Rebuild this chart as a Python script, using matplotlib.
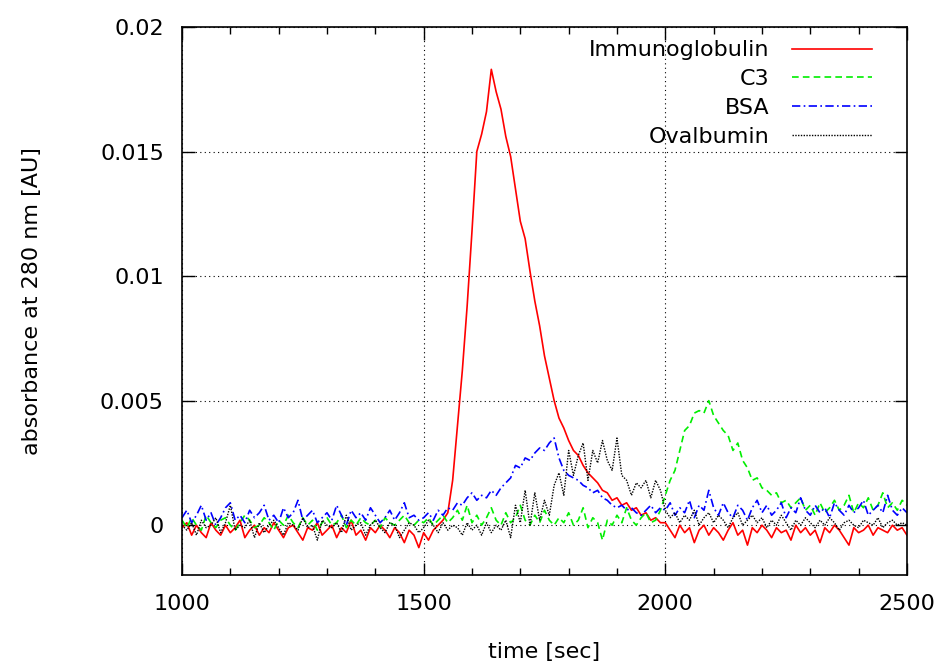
import numpy as np
import matplotlib.pyplot as plt
from matplotlib.ticker import MultipleLocator

# time axis [sec], one reading every 10 sec
time = np.arange(1000, 2501, 10)

# absorbance values in units of 1e-4 AU
immunoglobulin = [
    -1, 1, -4, 0, -3, -5, 1, -2, -4, 0,
    -3, -1, 2, -5, -2, 0, -4, -1, -3, 1,
    -2, -5, -1, 0, -3, -6, -1, -2, 1, -4,
    -2, 0, -5, -1, -3, 2, -4, -2, -6, -1,
    -3, 0, -2, -5, -1, -3, -7, -2, -4, -9,
    -3, -6, -2, 0, 2, 5, 18, 40, 62, 88,
    118, 150, 157, 166, 183, 174, 167, 156, 148, 135,
    122, 115, 102, 90, 80, 68, 59, 50, 43, 39,
    34, 30, 28, 24, 21, 19, 17, 14, 13, 10,
    11, 8, 9, 6, 7, 4, 5, 2, 3, 1,
    1, -2, -5, 0, -3, -1, -7, -2, 0, -4,
    -1, -3, -6, -2, 1, -4, -2, -8, -1, -3,
    0, -2, -5, -1, -3, -2, -6, 0, -3, -1,
    -4, -2, -7, -1, -3, 0, -2, -5, -8, -1,
    -3, -2, 0, -4, -1, -2, -3, 0, -2, -1, -4,
]
c3 = [
    2, -1, 3, 0, -2, 4, 1, -1, 2, 3,
    0, -2, 1, 4, 2, -1, 0, 3, 1, -2,
    2, 0, 4, 1, -1, 3, 0, 2, -2, 1,
    3, 0, 1, 4, -1, 2, 0, 3, 1, 0,
    2, -1, 3, 1, 0, 2, 4, 1, 0, 2,
    1, 3, 0, 2, 4, 1, 3, 6, 2, 8,
    1, 4, 0, 3, 7, 2, 0, 5, 1, 3,
    8, 2, 0, 4, 1, 6, 2, 0, 3, 1,
    5, 0, 2, 7, -1, 3, 1, -6, 2, 0,
    4, 1, 7, 2, 0, 3, 5, 1, 2, 6,
    12, 18, 22, 30, 38, 40, 45, 46, 45, 50,
    44, 41, 38, 36, 30, 33, 26, 23, 18, 19,
    15, 14, 12, 13, 9, 10, 7, 9, 11, 6,
    8, 4, 9, 5, 7, 10, 6, 8, 12, 5,
    9, 7, 11, 6, 8, 13, 7, 9, 6, 10, 8,
]
bsa = [
    3, 6, 1, 4, 8, 2, 5, 0, 3, 7,
    9, 2, 4, 1, 6, 3, 5, 8, 2, 4,
    1, 7, 3, 5, 10, 2, 4, 6, 1, 3,
    5, 2, 8, 4, 0, 6, 3, 5, 2, 7,
    4, 1, 3, 6, 2, 5, 9, 3, 4, 2,
    3, 5, 2, 6, 4, 7, 6, 9, 8, 11,
    13, 10, 12, 11, 14, 12, 15, 17, 19, 24,
    23, 27, 26, 29, 31, 30, 33, 35, 27, 22,
    20, 19, 18, 16, 15, 13, 14, 11, 10, 8,
    7, 8, 6, 7, 5, 4, 6, 8, 5, 7,
    6, 9, 4, 7, 5, 10, 3, 8, 6, 14,
    7, 4, 9, 5, 3, 8, 6, 2, 7, 10,
    5, 8, 4, 6, 9, 3, 7, 5, 11, 6,
    4, 8, 5, 7, 3, 9, 6, 4, 8, 5,
    7, 10, 4, 6, 8, 5, 12, 6, 4, 7, 5,
]
ovalbumin = [
    0, -2, 1, -4, 2, -1, 0, 3, -3, 1,
    8, -2, 0, -1, 2, -5, 1, -3, 0, 2,
    -1, -4, 1, 0, -2, 3, -1, 0, -6, 2,
    0, -1, 1, -3, 4, -2, 0, 1, -4, 0,
    2, -1, -3, 1, 0, -5, -2, 1, 0, -3,
    -1, 2, 0, -3, 1, -2, 0, -1, -4, 1,
    -2, 0, -4, 1, -3, 0, -2, 2, -5, 8,
    1, 14, 0, 13, 2, 10, 4, 16, 21, 12,
    30, 20, 28, 33, 18, 30, 25, 34, 26, 22,
    35, 20, 18, 12, 17, 15, 18, 11, 18, 14,
    6, 3, 5, 1, 4, 2, 6, 0, 3, 5,
    1, 4, 2, -1, 3, 5, 0, 2, 4, 1,
    3, -1, 2, 0, 4, 1, -2, 2, 0, 3,
    1, -1, 2, 0, 3, 1, -2, 1, 2, 0,
    -1, 2, 1, 0, 3, -1, 1, 2, 0, 1, 0,
]

plt.rcParams['font.family'] = ['DejaVu Sans']

fig = plt.figure(figsize=(9.42, 6.63), dpi=100)
ax = fig.add_axes([0.1932, 0.1327, 0.7696, 0.8266])

ax.plot(time, np.array(immunoglobulin) * 1e-4, color='#ff0000', lw=1.2,
        label='Immunoglobulin')
ax.plot(time, np.array(c3) * 1e-4, color='#00ee00', lw=1.2,
        linestyle=(0, (4, 2.5)), label='C3')
ax.plot(time, np.array(bsa) * 1e-4, color='#0000ff', lw=1.2,
        linestyle=(0, (5, 2, 1, 2)), label='BSA')
ax.plot(time, np.array(ovalbumin) * 1e-4, color='black', lw=1.0,
        linestyle=(0, (1, 1)), label='Ovalbumin')

ax.set_xlim(1000, 2500)
ax.set_ylim(-0.002, 0.02)
ax.set_xticks([1000, 1500, 2000, 2500])
ax.set_yticks([0, 0.005, 0.01, 0.015, 0.02])
ax.set_yticklabels(['0', '0.005', '0.01', '0.015', '0.02'])
ax.xaxis.set_minor_locator(MultipleLocator(100))
ax.tick_params(which='both', direction='in', top=True, right=True,
               labelsize=16)
ax.tick_params(axis='x', which='major', pad=14)
ax.tick_params(axis='y', which='major', pad=13)
ax.tick_params(which='major', length=9, width=1)
ax.tick_params(which='minor', length=5, width=1)
ax.grid(True, which='major', color='black', lw=0.8, linestyle=(0, (1, 3)))
for s in ax.spines.values():
    s.set_linewidth(1.2)

ax.set_xlabel('time [sec]', fontsize=16, labelpad=20)
ax.set_ylabel('absorbance at 280 nm [AU]', fontsize=16, labelpad=42)

ax.legend(loc='upper right', frameon=False, markerfirst=False, fontsize=16,
          handlelength=3.6, handletextpad=1.0, labelspacing=0.4,
          borderaxespad=0.2, bbox_to_anchor=(0.97, 1.0))
for t in ax.get_legend().get_texts():
    t.set_ha('right')

fig.savefig('out.png', dpi=100)
